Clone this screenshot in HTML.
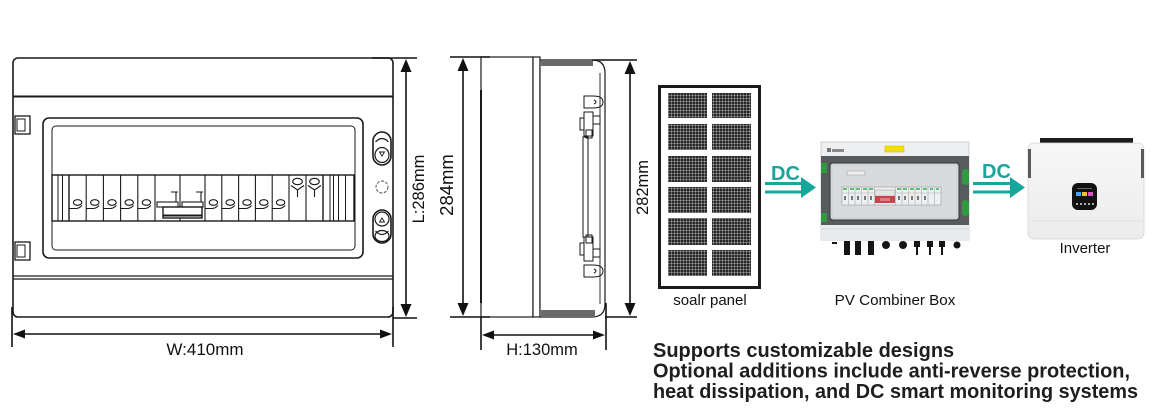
<!DOCTYPE html>
<html><head><meta charset="utf-8">
<style>
html,body{margin:0;padding:0;background:#fff;}
body{width:1155px;height:409px;overflow:hidden;}
svg{display:block;font-family:"Liberation Sans",Arial,sans-serif;}
</style></head><body>
<svg width="1155" height="409" viewBox="0 0 1155 409" xmlns="http://www.w3.org/2000/svg">
<defs>
<pattern id="cell" width="3" height="3" patternUnits="userSpaceOnUse">
<rect width="3" height="3" fill="#262626"/>
<line x1="2.5" y1="0" x2="2.5" y2="3" stroke="#fff" stroke-width="0.6" opacity="0.5"/>
<line x1="0" y1="2.5" x2="3" y2="2.5" stroke="#fff" stroke-width="0.6" opacity="0.5"/>
</pattern>
<linearGradient id="inv" x1="0" y1="0" x2="0" y2="1">
<stop offset="0" stop-color="#f7f7f7"/><stop offset="1" stop-color="#ececec"/>
</linearGradient>
</defs>

<!-- ============ FRONT VIEW ============ -->
<g stroke="#1a1a1a" fill="none">
<rect x="13" y="58" width="380" height="259" rx="5" stroke-width="1.6" fill="#fff"/>
<line x1="13" y1="96.5" x2="393" y2="96.5" stroke-width="2"/>
<line x1="13" y1="276" x2="393" y2="276" stroke-width="1.2"/>
<line x1="13" y1="279" x2="393" y2="279" stroke-width="1.2"/>
<rect x="15" y="116" width="15" height="18" stroke-width="1.3"/>
<rect x="17" y="119" width="8" height="12" stroke-width="1"/>
<rect x="15" y="242" width="15" height="18" stroke-width="1.3"/>
<rect x="17" y="245" width="8" height="12" stroke-width="1"/>
<rect x="43" y="118" width="320" height="140" rx="6" stroke-width="1.6"/>
<rect x="52" y="126" width="303" height="124" rx="4" stroke-width="1"/>
<rect x="52" y="175" width="302" height="46" stroke-width="1.4" fill="#fff"/>
<line x1="58" y1="175" x2="58" y2="221" stroke-width="1"/>
<line x1="62.5" y1="175" x2="62.5" y2="221" stroke-width="1"/>
<line x1="69" y1="175" x2="69" y2="221" stroke-width="1.4"/>
<line x1="323" y1="175" x2="323" y2="221" stroke-width="1.4"/>
<line x1="330" y1="175" x2="330" y2="221" stroke-width="1"/>
<line x1="333.5" y1="175" x2="333.5" y2="221" stroke-width="1"/>
<line x1="338.5" y1="175" x2="338.5" y2="221" stroke-width="1"/>
<line x1="345.5" y1="175" x2="345.5" y2="221" stroke-width="1"/>
</g>
<g stroke="#1a1a1a" fill="none" stroke-width="1.1">
<line x1="86.2" y1="175" x2="86.2" y2="221"/><line x1="103.4" y1="175" x2="103.4" y2="221"/>
<line x1="120.6" y1="175" x2="120.6" y2="221"/><line x1="137.8" y1="175" x2="137.8" y2="221"/>
<line x1="155" y1="175" x2="155" y2="221"/>
<ellipse cx="77.6" cy="202.5" rx="4.2" ry="2.8"/><path d="M69 208.5 L76 208.5 Q79 208.5 82 205.5"/>
<ellipse cx="94.8" cy="202.5" rx="4.2" ry="2.8"/><path d="M86.2 208.5 L93.2 208.5 Q96.2 208.5 99.2 205.5"/>
<ellipse cx="112" cy="202.5" rx="4.2" ry="2.8"/><path d="M103.4 208.5 L110.4 208.5 Q113.4 208.5 116.4 205.5"/>
<ellipse cx="129.2" cy="202.5" rx="4.2" ry="2.8"/><path d="M120.6 208.5 L127.6 208.5 Q130.6 208.5 133.6 205.5"/>
<ellipse cx="146.4" cy="202.5" rx="4.2" ry="2.8"/><path d="M137.8 208.5 L144.8 208.5 Q147.8 208.5 150.8 205.5"/>
<line x1="180" y1="175" x2="180" y2="221"/>
<line x1="205" y1="175" x2="205" y2="221"/>
<path d="M171 192 L178 192 M196 192 L203 192"/>
<line x1="176" y1="192" x2="176" y2="202"/>
<line x1="201" y1="192" x2="201" y2="202"/>
<rect x="157" y="202" width="21" height="5"/>
<rect x="182" y="202" width="21" height="5"/>
<rect x="163" y="207" width="39" height="11" fill="#fff" stroke-width="1.4"/>
<line x1="163" y1="215.5" x2="202" y2="215.5" stroke-width="2"/>
<line x1="221.8" y1="175" x2="221.8" y2="221"/><line x1="238.6" y1="175" x2="238.6" y2="221"/>
<line x1="255.4" y1="175" x2="255.4" y2="221"/><line x1="272.2" y1="175" x2="272.2" y2="221"/>
<line x1="289" y1="175" x2="289" y2="221"/><line x1="306" y1="175" x2="306" y2="221"/>
<ellipse cx="213.4" cy="202.5" rx="4.2" ry="2.8"/><path d="M205 208.5 L212 208.5 Q215 208.5 218 205.5"/>
<ellipse cx="230.2" cy="202.5" rx="4.2" ry="2.8"/><path d="M221.8 208.5 L228.8 208.5 Q231.8 208.5 234.8 205.5"/>
<ellipse cx="247" cy="202.5" rx="4.2" ry="2.8"/><path d="M238.6 208.5 L245.6 208.5 Q248.6 208.5 251.6 205.5"/>
<ellipse cx="263.8" cy="202.5" rx="4.2" ry="2.8"/><path d="M255.4 208.5 L262.4 208.5 Q265.4 208.5 268.4 205.5"/>
<ellipse cx="280.6" cy="202.5" rx="4.2" ry="2.8"/><path d="M272.2 208.5 L279.2 208.5 Q282.2 208.5 285.2 205.5"/>
<ellipse cx="297.5" cy="181.5" rx="4.8" ry="3.2"/>
<path d="M291 185.5 L297.5 190 L304 185.5 M297.5 190 L297.5 197"/>
<ellipse cx="314.5" cy="181.5" rx="4.8" ry="3.2"/>
<path d="M308 185.5 L314.5 190 L321 185.5 M314.5 190 L314.5 197"/>
</g>
<g stroke="#1a1a1a" fill="none">
<rect x="373" y="132" width="18" height="33" rx="9" stroke-width="1.6"/>
<path d="M375.5 142 Q382 135 388.5 142" stroke-width="1.2"/>
<ellipse cx="382" cy="155" rx="7" ry="7.5" stroke-width="1.2"/>
<path d="M379.5 152 L384.5 152 L382 156 Z" stroke-width="0.9"/>
<circle cx="382" cy="187" r="6" stroke="#444" stroke-width="0.9" stroke-dasharray="3 1.5"/>
<rect x="373" y="210" width="18" height="33" rx="9" stroke-width="1.6"/>
<ellipse cx="382" cy="219" rx="7" ry="7" stroke-width="1.2"/>
<path d="M379.5 222 L384.5 222 L382 218 Z" stroke-width="0.9"/>
<path d="M375.5 231 Q382 238 388.5 231" stroke-width="1.2"/>
<ellipse cx="382" cy="236" rx="7" ry="5.5" stroke-width="1.2"/>
</g>

<g stroke="#111" stroke-width="1.6" fill="#111">
<line x1="12" y1="307" x2="12" y2="347"/>
<line x1="393" y1="307" x2="393" y2="347"/>
<line x1="22" y1="334" x2="383" y2="334"/>
<polygon points="13,334 25,329.5 25,338.5" stroke="none"/>
<polygon points="392,334 380,329.5 380,338.5" stroke="none"/>
<line x1="372" y1="58" x2="417" y2="58"/>
<line x1="393" y1="318" x2="417" y2="318"/>
<line x1="406" y1="68" x2="406" y2="308"/>
<polygon points="406,59 400.5,72 411.5,72" stroke="none"/>
<polygon points="406,317 400.5,304 411.5,304" stroke="none"/>
</g>
<text x="205" y="355" font-size="17" text-anchor="middle" fill="#111">W:410mm</text>
<text x="0" y="0" font-size="16.5" text-anchor="middle" fill="#111" transform="translate(424 189) rotate(-90)">L:286mm</text>

<!-- ============ SIDE VIEW ============ -->
<g stroke="#1a1a1a" fill="none" stroke-width="1.2">
<rect x="481" y="57" width="52" height="260" fill="#fff"/>
<line x1="481" y1="90" x2="481" y2="303" stroke-width="2"/>
<rect x="533" y="57" width="7" height="260" fill="#fff"/>
<path d="M540 60 L592 60 Q605 60 605 73 L605 304 Q605 317 592 317 L540 317 Z" fill="#fff"/>
<line x1="600" y1="73" x2="600" y2="304" stroke-width="0.9"/>
</g>
<rect x="541" y="60" width="52" height="6" fill="#6a6a6a"/>
<rect x="541" y="310" width="54" height="7" fill="#6a6a6a"/>
<g stroke="#1a1a1a" fill="none" stroke-width="1">
<path d="M584 96 L593 96 Q603 96 603 102 Q603 108 593 108 L584 108 Z"/>
<path d="M594 100 Q598 102 594 104"/>
<rect x="584" y="112" width="9" height="24"/>
<rect x="580" y="118" width="4" height="12"/>
<rect x="593" y="116" width="7" height="8"/>
<rect x="586" y="130" width="6" height="8"/>
<rect x="583" y="137" width="5" height="100"/>
<rect x="584" y="237" width="9" height="24"/>
<rect x="580" y="243" width="4" height="12"/>
<rect x="593" y="249" width="7" height="8"/>
<rect x="586" y="235" width="6" height="8"/>
<path d="M584 265 L593 265 Q603 265 603 271 Q603 277 593 277 L584 277 Z"/>
<path d="M594 269 Q598 271 594 273"/>
</g>
<g stroke="#111" stroke-width="1.6" fill="#111">
<line x1="450" y1="57" x2="490" y2="57"/>
<line x1="450" y1="317" x2="490" y2="317"/>
<line x1="463" y1="67" x2="463" y2="307"/>
<polygon points="463,58 457.5,71 468.5,71" stroke="none"/>
<polygon points="463,316 457.5,303 468.5,303" stroke="none"/>
<line x1="592" y1="60" x2="637" y2="60"/>
<line x1="605" y1="317" x2="637" y2="317"/>
<line x1="630" y1="70" x2="630" y2="307"/>
<polygon points="630,61 624.5,74 635.5,74" stroke="none"/>
<polygon points="630,316 624.5,303 635.5,303" stroke="none"/>
<line x1="481" y1="317" x2="481" y2="350"/>
<line x1="606" y1="303" x2="606" y2="350"/>
<line x1="490" y1="335" x2="597" y2="335"/>
<polygon points="482,335 494,330.5 494,339.5" stroke="none"/>
<polygon points="605,335 593,330.5 593,339.5" stroke="none"/>
</g>
<text x="0" y="0" font-size="18.5" text-anchor="middle" fill="#111" transform="translate(453 185) rotate(-90)">284mm</text>
<text x="0" y="0" font-size="16.5" text-anchor="middle" fill="#111" transform="translate(648 187.5) rotate(-90)">282mm</text>
<text x="542" y="355" font-size="16.5" text-anchor="middle" fill="#111">H:130mm</text>

<!-- ============ SOLAR PANEL ============ -->
<rect x="659.5" y="86.5" width="100" height="201" fill="#fff" stroke="#1a1a1a" stroke-width="3"/>
<g fill="url(#cell)">
<rect x="668" y="93" width="39" height="25"/><rect x="712" y="93" width="39" height="25"/>
<rect x="668" y="124" width="39" height="26"/><rect x="712" y="124" width="39" height="26"/>
<rect x="668" y="156" width="39" height="26"/><rect x="712" y="156" width="39" height="26"/>
<rect x="668" y="187" width="39" height="26"/><rect x="712" y="187" width="39" height="26"/>
<rect x="668" y="218" width="39" height="27"/><rect x="712" y="218" width="39" height="27"/>
<rect x="668" y="250" width="39" height="26"/><rect x="712" y="250" width="39" height="26"/>
</g>
<text x="710" y="305" font-size="15" text-anchor="middle" fill="#111">soalr panel</text>

<text x="771" y="180" font-size="20" font-weight="bold" fill="#17a69b">DC</text>
<rect x="765" y="182" width="40" height="3" fill="#17a69b"/>
<rect x="765" y="190.5" width="40" height="3" fill="#17a69b"/>
<polygon points="801,177 816,187.5 801,198" fill="#17a69b"/>

<!-- ============ COMBINER BOX ============ -->
<rect x="821" y="142" width="148" height="98" fill="#e6e7e9" stroke="#c4c6c8" stroke-width="0.8"/>
<rect x="821.5" y="142.5" width="147" height="13.5" fill="#eeeff0"/>
<rect x="827" y="148" width="4" height="4" fill="#777"/>
<rect x="832" y="149" width="12" height="3" fill="#8a8a8a"/>
<rect x="885" y="146" width="19" height="6" fill="#f2df00" stroke="#c9b800" stroke-width="0.5"/>
<rect x="821" y="156" width="148" height="69" fill="#575b5e"/>
<rect x="830" y="163" width="129" height="57" rx="3" fill="#d2d4d6" stroke="#35383b" stroke-width="1"/>
<rect x="833" y="166" width="123" height="51" rx="2" fill="#d8dadc"/>
<rect x="847" y="171" width="18" height="4" fill="#eee" stroke="#999" stroke-width="0.5"/>
<rect x="842" y="187" width="99" height="18" fill="#eeeff0" stroke="#9a9c9e" stroke-width="0.6"/>
<g stroke="#a8aaac" stroke-width="0.6">
<line x1="848.5" y1="187" x2="848.5" y2="205"/><line x1="855" y1="187" x2="855" y2="205"/>
<line x1="861.5" y1="187" x2="861.5" y2="205"/><line x1="868" y1="187" x2="868" y2="205"/>
<line x1="874.5" y1="187" x2="874.5" y2="205"/><line x1="895.5" y1="187" x2="895.5" y2="205"/>
<line x1="902" y1="187" x2="902" y2="205"/><line x1="908.5" y1="187" x2="908.5" y2="205"/>
<line x1="915" y1="187" x2="915" y2="205"/><line x1="921.5" y1="187" x2="921.5" y2="205"/>
<line x1="928" y1="187" x2="928" y2="205"/><line x1="934.5" y1="187" x2="934.5" y2="205"/>
<line x1="842" y1="193" x2="941" y2="193"/>
</g>
<g fill="#5fbf7a">
<rect x="843" y="188" width="4" height="2"/><rect x="850" y="188" width="4" height="2"/>
<rect x="856" y="188" width="4" height="2"/><rect x="863" y="188" width="4" height="2"/>
<rect x="869" y="188" width="4" height="2"/><rect x="897" y="188" width="4" height="2"/>
<rect x="903" y="188" width="4" height="2"/><rect x="910" y="188" width="4" height="2"/>
<rect x="916" y="188" width="4" height="2"/><rect x="923" y="188" width="4" height="2"/>
<rect x="930" y="188" width="3" height="2"/><rect x="936" y="188" width="3" height="2"/>
</g>
<g fill="#777">
<rect x="844" y="196" width="2" height="4"/><rect x="851" y="196" width="2" height="4"/>
<rect x="857" y="196" width="2" height="4"/><rect x="864" y="196" width="2" height="4"/>
<rect x="870" y="196" width="2" height="4"/><rect x="898" y="196" width="2" height="4"/>
<rect x="904" y="196" width="2" height="4"/><rect x="911" y="196" width="2" height="4"/>
<rect x="917" y="196" width="2" height="4"/><rect x="924" y="196" width="2" height="4"/>
</g>
<rect x="875" y="190" width="20" height="6" fill="#e4e4e4" stroke="#999" stroke-width="0.5"/>
<rect x="875" y="196" width="20" height="7" fill="#c9424d"/>
<rect x="880" y="198" width="10" height="3" fill="#e07a82"/>
<rect x="821" y="163" width="6" height="10" fill="#2f9a3f"/>
<rect x="821" y="213" width="6" height="9" fill="#2f9a3f"/>
<rect x="962" y="169" width="7" height="16" rx="3" fill="#2f9a3f"/>
<rect x="962" y="200" width="7" height="16" rx="3" fill="#2f9a3f"/>
<rect x="821" y="225" width="148" height="15" fill="#e9eaeb"/>
<line x1="821" y1="229" x2="969" y2="229" stroke="#cfd0d2" stroke-width="0.8"/>
<g fill="#151515">
<rect x="832" y="242" width="5" height="2"/>
<rect x="844" y="241" width="6" height="14"/><rect x="855" y="241" width="6" height="14"/><rect x="868" y="241" width="6" height="14"/>
<circle cx="886" cy="245" r="4"/><circle cx="903" cy="245" r="4"/>
<rect x="914" y="241" width="6" height="6"/><rect x="927" y="241" width="6" height="6"/><rect x="939" y="241" width="6" height="6"/>
<rect x="916" y="247" width="2" height="8"/><rect x="929" y="247" width="2" height="8"/><rect x="941" y="247" width="2" height="8"/>
<circle cx="957" cy="245" r="3.5"/>
</g>
<text x="895" y="305" font-size="15.2" text-anchor="middle" fill="#111">PV Combiner Box</text>

<text x="982" y="178" font-size="20" font-weight="bold" fill="#17a69b">DC</text>
<rect x="973" y="182" width="41" height="3" fill="#17a69b"/>
<rect x="973" y="190.5" width="41" height="3" fill="#17a69b"/>
<polygon points="1010,177 1025,187.5 1010,198" fill="#17a69b"/>

<!-- ============ INVERTER ============ -->
<rect x="1040" y="138" width="93" height="6" fill="#1e1e1e"/>
<rect x="1028" y="143" width="116" height="96" rx="6" fill="url(#inv)" stroke="#d6d6d6" stroke-width="0.8"/>
<rect x="1028" y="149" width="3" height="29" fill="#5a5a5a"/>
<rect x="1141" y="149" width="3" height="29" fill="#5a5a5a"/>
<line x1="1030" y1="221" x2="1142" y2="221" stroke="#dedede" stroke-width="1"/>
<rect x="1072" y="183" width="25" height="27" rx="6" fill="#121212"/>
<rect x="1076" y="192" width="5" height="4" fill="#3fa9f5"/>
<rect x="1082" y="192" width="5" height="4" fill="#f2c230"/>
<rect x="1088" y="192" width="5" height="4" fill="#d94fd0"/>
<rect x="1077" y="188" width="15" height="1" fill="#666"/>
<circle cx="1077" cy="204" r="1" fill="#ddd"/><circle cx="1081" cy="204" r="1" fill="#ddd"/>
<circle cx="1085" cy="204" r="1" fill="#ddd"/><circle cx="1089" cy="204" r="1" fill="#ddd"/>
<circle cx="1093" cy="204" r="1" fill="#ddd"/>
<text x="1085" y="253" font-size="15" text-anchor="middle" fill="#111">Inverter</text>

<g font-size="20" font-weight="bold" fill="#1e1e1e">
<text x="653" y="357">Supports customizable designs</text>
<text x="653" y="377.5" textLength="477" lengthAdjust="spacingAndGlyphs">Optional additions include anti-reverse protection,</text>
<text x="653" y="398" textLength="485" lengthAdjust="spacingAndGlyphs">heat dissipation, and DC smart monitoring systems</text>
</g>
</svg>
</body></html>
